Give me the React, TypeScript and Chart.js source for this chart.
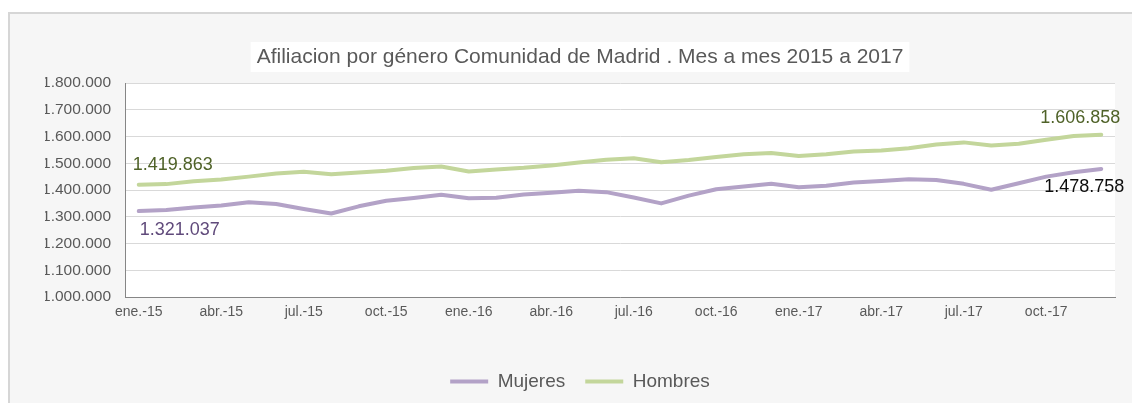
import React, { useEffect, useRef } from "react";
import { Chart, registerables } from "chart.js";

Chart.register(...registerables);

const TITLE = "Afiliacion por género Comunidad de Madrid . Mes a mes 2015 a 2017";

const months = ["ene.", "feb.", "mar.", "abr.", "may.", "jun.", "jul.", "ago.", "sep.", "oct.", "nov.", "dic."];
const years = ["15", "16", "17"];
const categories: string[] = [];
years.forEach((y) => months.forEach((m) => categories.push(`${m}-${y}`)));

const mujeres = [
  1321037, 1325000, 1335000, 1342000, 1354000, 1348000, 1329000, 1312000, 1339000, 1360000, 1370000, 1382000,
  1369000, 1371000, 1383000, 1390000, 1397000, 1392000, 1372000, 1350000, 1379000, 1403000, 1413000, 1423000,
  1410000, 1416000, 1428000, 1434000, 1440000, 1437000, 1423000, 1401000, 1425000, 1450000, 1466000, 1478758,
];

const hombres = [
  1419863, 1422000, 1433000, 1439000, 1450000, 1462000, 1468000, 1459000, 1465000, 1472000, 1482000, 1488000,
  1469000, 1477000, 1483000, 1492000, 1503000, 1513000, 1519000, 1504000, 1512000, 1523000, 1534000, 1538000,
  1527000, 1534000, 1544000, 1548000, 1556000, 1570000, 1578000, 1566000, 1573000, 1588000, 1602000, 1606858,
];

const yTicks = [1000000, 1100000, 1200000, 1300000, 1400000, 1500000, 1600000, 1700000, 1800000];

const fmt = (n: number) => String(Math.round(n)).replace(/\B(?=(\d{3})+(?!\d))/g, ".");

const FONT = '"Liberation Sans", Arial, sans-serif';
const TITLE_SIZE = 21;

// which points get a value label (dataset index, data index) and label style
const pointLabels = [
  { ds: 1, idx: 0, dx: 34, dy: -20, color: "#4f6228" },
  { ds: 0, idx: 0, dx: 41, dy: 19, color: "#604a7b" },
  { ds: 1, idx: 35, dx: -21, dy: -17, color: "#4f6228" },
  { ds: 0, idx: 35, dx: -17, dy: 18, color: "#0d0d0d" },
];

const bgPlugin = {
  id: "bgPlugin",
  beforeDraw(chart: any) {
    const { ctx, chartArea } = chart;
    ctx.save();
    ctx.fillStyle = "#ffffff";
    ctx.fillRect(chartArea.left, chartArea.top, chartArea.right - chartArea.left, chartArea.bottom - chartArea.top);
    const tb = chart.titleBlock;
    if (tb) {
      ctx.font = `${TITLE_SIZE}px ${FONT}`;
      const w = ctx.measureText(TITLE).width;
      const cx = (tb.left + tb.right) / 2;
      ctx.fillRect(cx - w / 2 - 6, tb.top + 42, w + 12, 30);
    }
    ctx.restore();
  },
};

const labelPlugin = {
  id: "labelPlugin",
  afterDatasetsDraw(chart: any) {
    const { ctx } = chart;
    ctx.save();
    ctx.font = `18px ${FONT}`;
    ctx.textAlign = "center";
    ctx.textBaseline = "middle";
    pointLabels.forEach((l) => {
      const pt = chart.getDatasetMeta(l.ds).data[l.idx];
      const v = chart.data.datasets[l.ds].data[l.idx] as number;
      ctx.fillStyle = l.color;
      ctx.fillText(fmt(v), pt.x + l.dx, pt.y + l.dy);
    });
    ctx.restore();
  },
};

export default function App() {
  const ref = useRef<HTMLCanvasElement>(null);

  useEffect(() => {
    if (!ref.current) return;
    Chart.defaults.font.family = FONT;
    const chart = new Chart(ref.current, {
      type: "line",
      data: {
        labels: categories,
        datasets: [
          {
            label: "Mujeres",
            data: mujeres,
            borderColor: "#b3a2c7",
            backgroundColor: "#b3a2c7",
            borderWidth: 4,
            pointRadius: 0,
            tension: 0,
            borderJoinStyle: "round",
            borderCapStyle: "round",
          },
          {
            label: "Hombres",
            data: hombres,
            borderColor: "#c3d69b",
            backgroundColor: "#c3d69b",
            borderWidth: 4,
            pointRadius: 0,
            tension: 0,
            borderJoinStyle: "round",
            borderCapStyle: "round",
          },
        ],
      },
      options: {
        animation: false,
        responsive: false,
        devicePixelRatio: 1,
        layout: { padding: { left: 45, right: 17, top: 0, bottom: 2 } },
        plugins: {
          title: {
            display: true,
            text: TITLE,
            color: "#595959",
            font: { size: TITLE_SIZE, weight: "normal", family: FONT, lineHeight: 24 / TITLE_SIZE },
            padding: { top: 45, bottom: 14 },
          },
          legend: {
            position: "bottom",
            labels: {
              color: "#595959",
              font: { size: 19, family: FONT },
              usePointStyle: true,
              pointStyle: "line",
              pointStyleWidth: 38,
              padding: 20,
            },
          },
          tooltip: { enabled: false },
        },
        scales: {
          x: {
            type: "category",
            offset: true,
            grid: { display: false, drawTicks: false },
            border: { display: true, color: "#868686", width: 1 },
            ticks: {
              autoSkip: false,
              maxRotation: 0,
              minRotation: 0,
              padding: 7,
              color: "#595959",
              font: { size: 14, family: FONT },
              callback: (_v: any, i: number) => (i % 3 === 0 ? categories[i] : ""),
            },
            afterFit: (s: any) => {
              s.height = 55;
            },
          },
          y: {
            min: yTicks[0],
            max: yTicks[yTicks.length - 1],
            afterBuildTicks: (s: any) => {
              s.ticks = yTicks.map((v) => ({ value: v }));
            },
            grid: { color: "#d9d9d9", lineWidth: 1, drawTicks: false },
            border: { display: true, color: "#868686", width: 1 },
            ticks: {
              padding: 14,
              color: "#595959",
              font: { size: 15.5, family: FONT },
              callback: (v: any) => fmt(Number(v)),
            },
            afterFit: (s: any) => {
              s.width = 80;
            },
          },
        },
      },
      plugins: [bgPlugin, labelPlugin],
    } as any);
    return () => chart.destroy();
  }, []);

  return (
    <div style={{ position: "fixed", left: 0, top: 0, width: 1132, height: 403, background: "#ffffff", overflow: "hidden" }}>
      <div
        style={{
          position: "absolute",
          left: 8,
          top: 12,
          width: 1140,
          height: 400,
          background: "#f6f6f6",
          borderLeft: "2px solid #d6d6d6",
          borderTop: "2px solid #d6d6d6",
          boxSizing: "border-box",
        }}
      />
      <canvas
        ref={ref}
        width={1132}
        height={403}
        style={{ position: "absolute", left: 0, top: 0, width: 1132, height: 403 }}
      />
    </div>
  );
}
